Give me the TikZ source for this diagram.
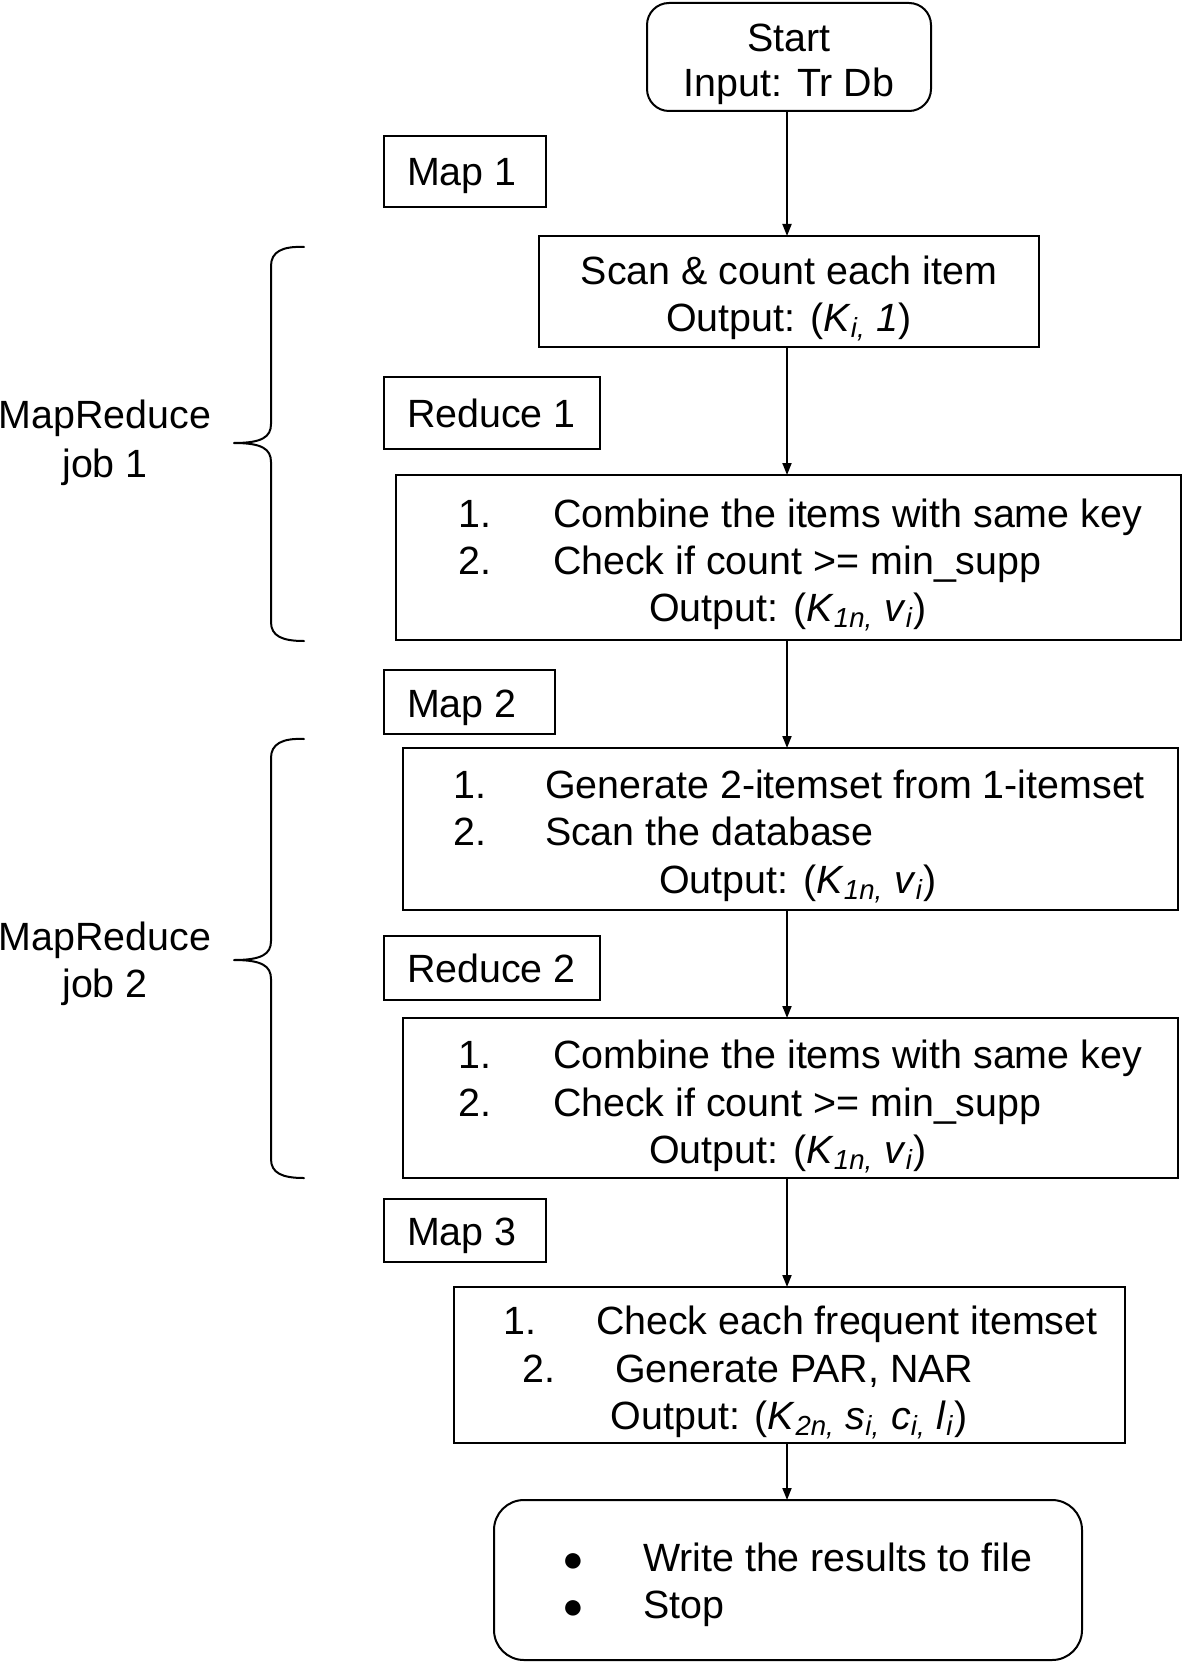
\documentclass[tikz,border=0pt]{standalone}
\usepackage{fontspec}
\setmainfont{Liberation Sans}
\usetikzlibrary{arrows.meta}
\newcommand{\subit}[1]{\textsubscript{\textit{#1}}}
\begin{document}
\begin{tikzpicture}[x=0.5pt,y=-0.5pt,
  every node/.style={font=\fontsize{19.7}{23.5}\selectfont, inner sep=0pt, outer sep=0pt},
  box/.style={draw, line width=1pt},
  rbox/.style={box, rounded corners=11pt},
  ebox/.style={box, rounded corners=15pt},
  txt/.style={anchor=base},
  txtl/.style={anchor=base west},
  txtr/.style={anchor=base east},
  bul/.style={anchor=base, font=\fontsize{18}{18}\selectfont},
  arr/.style={-{Triangle[length=6pt,width=4.5pt]}, line width=0.9pt},
  brace/.style={line width=1pt, line cap=round, line join=round}]
\useasboundingbox (0,0) rectangle (1185,1664);
\coordinate (ax) at (787,0);

% main boxes
\node[rbox, minimum width=142pt, minimum height=54pt] (start) at (789,57) {};
\node[box, minimum width=250pt, minimum height=55.5pt] (scan) at (789,291.5) {};
\node[box, minimum width=392.5pt, minimum height=82.5pt] (comb1) at (788.5,557.5) {};
\node[box, minimum width=387.5pt, minimum height=81pt] (gen) at (790.5,829) {};
\node[box, minimum width=387.5pt, minimum height=80pt] (comb2) at (790.5,1098) {};
\node[box, minimum width=335.5pt, minimum height=78pt] (check) at (789.5,1365) {};
\node[ebox, minimum width=294pt, minimum height=80pt] (stop) at (788,1580) {};

% tag boxes
\node[box, minimum width=81pt, minimum height=35.5pt] (map1) at (465,171.5) {};
\node[box, minimum width=108pt, minimum height=36pt] (red1) at (492,413) {};
\node[box, minimum width=85.5pt, minimum height=32pt] (map2) at (469.5,702) {};
\node[box, minimum width=108pt, minimum height=32pt] (red2) at (492,968) {};
\node[box, minimum width=81pt, minimum height=31.5pt] (map3) at (465,1230.5) {};

\node[txtl] (map1t) at (407,185.6) {Map 1};
\node[txtl] (red1t) at (407,427.5) {Reduce 1};
\node[txtl] (map2t) at (407,717) {Map 2};
\node[txtl] (red2t) at (407,982) {Reduce 2};
\node[txtl] (map3t) at (407,1245.5) {Map 3};

% texts
\node[txt] (st1) at (789,52) {Start};
\node[txt] (st2) at (789,96.5) {Input: Tr Db};

\node[txt] (sc1) at (789,285) {Scan \& count each item};
\node[txt] (sc2) at (789,331) {Output: (\textit{K}\subit{i,} \textit{1})};

\node[txtr] (c1n1) at (491,527) {1.};
\node[txtl] (c1l1) at (553,527) {Combine the items with same key};
\node[txtr] (c1n2) at (491,574) {2.};
\node[txtl] (c1l2) at (553,574) {Check if count >= min\_supp};
\node[txt] (c1o) at (788,621) {Output: (\textit{K}\subit{1n,} \textit{v}\subit{i})};

\node[txtr] (g1n1) at (486,798) {1.};
\node[txtl] (g1l1) at (545,798) {Generate 2-itemset from 1-itemset};
\node[txtr] (g1n2) at (486,845.5) {2.};
\node[txtl] (g1l2) at (545,845.5) {Scan the database};
\node[txt] (g1o) at (798,893) {Output: (\textit{K}\subit{1n,} \textit{v}\subit{i})};

\node[txtr] (c2n1) at (491,1068) {1.};
\node[txtl] (c2l1) at (553,1068) {Combine the items with same key};
\node[txtr] (c2n2) at (491,1116) {2.};
\node[txtl] (c2l2) at (553,1116) {Check if count >= min\_supp};
\node[txt] (c2o) at (788,1163) {Output: (\textit{K}\subit{1n,} \textit{v}\subit{i})};

\node[txtr] (k1n1) at (536,1334.6) {1.};
\node[txtl] (k1l1) at (596,1334.6) {Check each frequent itemset};
\node[txtr] (k1n2) at (555,1382) {2.};
\node[txtl] (k1l2) at (615,1382) {Generate PAR, NAR};
\node[txt] (k1o) at (789,1429) {Output: (\textit{K}\subit{2n,} \textit{s}\subit{i,} \textit{c}\subit{i,} \textit{l}\subit{i})};

\node[bul] (e1b) at (573,1571) {●};
\node[txtl] (e1l) at (643,1571) {Write the results to file};
\node[bul] (e2b) at (573,1618) {●};
\node[txtl] (e2l) at (643,1618) {Stop};

% side labels
\node[txt] (mr1a) at (105,428.6) {MapReduce};
\node[txt] (mr1b) at (105,477.4) {job 1};
\node[txt] (mr2a) at (105,950.6) {MapReduce};
\node[txt] (mr2b) at (105,997) {job 2};

% braces
\draw[brace] (304,247) .. controls (282,246) and (271,252) .. (271,266) -- (271,424)
  .. controls (271,437) and (262,443) .. (234,443)
  .. controls (262,443) and (271,449) .. (271,462) -- (271,622)
  .. controls (271,636) and (282,641) .. (304,641);
\draw[brace] (304,739) .. controls (282,738) and (271,744) .. (271,758) -- (271,941)
  .. controls (271,954) and (262,960) .. (234,960)
  .. controls (262,960) and (271,966) .. (271,979) -- (271,1159)
  .. controls (271,1173) and (282,1178) .. (304,1178);

% arrows
\draw[arr] (start.south -| ax) -- (scan.north -| ax);
\draw[arr] (scan.south -| ax) -- (comb1.north -| ax);
\draw[arr] (comb1.south -| ax) -- (gen.north -| ax);
\draw[arr] (gen.south -| ax) -- (comb2.north -| ax);
\draw[arr] (comb2.south -| ax) -- (check.north -| ax);
\draw[arr] (check.south -| ax) -- (stop.north -| ax);
\end{tikzpicture}
\end{document}
